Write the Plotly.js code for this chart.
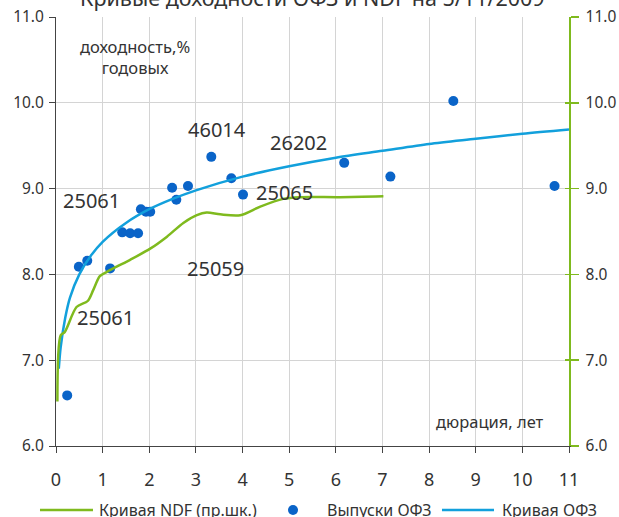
<!DOCTYPE html>
<html>
<head>
<meta charset="utf-8">
<script src="https://cdn.plot.ly/plotly-3.0.1.min.js"></script>
<style>html,body{margin:0;padding:0;background:#fff;}#chart{width:619px;height:517px;}</style>
</head>
<body>
<div id="chart"></div>
<script>
// OFZ issues (duration, yield)
const ofzDuration = [0.24, 0.49, 0.67, 1.16, 1.42, 1.59, 1.76, 1.82, 1.93, 2.02, 2.49, 2.58, 2.83, 3.33, 3.76, 4.01, 6.18, 7.17, 8.52, 10.69];
const ofzYield    = [6.59, 8.09, 8.16, 8.07, 8.49, 8.48, 8.48, 8.76, 8.73, 8.73, 9.01, 8.87, 9.03, 9.37, 9.12, 8.93, 9.30, 9.14, 10.02, 9.03];

// OFZ yield curve
const curveX = [0.06, 0.1, 0.2, 0.3, 0.5, 0.75, 1.0, 1.5, 2.0, 2.5, 3.0, 4.0, 5.0, 6.0, 7.0, 8.0, 9.0, 10.0, 11.0];
const curveY = [6.90, 7.15, 7.50, 7.73, 8.00, 8.22, 8.38, 8.60, 8.76, 8.88, 8.98, 9.14, 9.26, 9.36, 9.44, 9.52, 9.58, 9.64, 9.69];

// NDF curve (right scale)
const ndfX = [0.03, 0.10, 0.19, 0.44, 0.68, 0.80, 0.94, 1.09, 1.30, 1.59, 2.02, 2.38, 2.73, 3.02, 3.23, 3.52, 3.95, 4.38, 4.87, 5.24, 6.09, 7.02];
const ndfY = [6.52, 7.29, 7.33, 7.62, 7.69, 7.82, 7.98, 8.03, 8.09, 8.17, 8.30, 8.44, 8.60, 8.69, 8.72, 8.70, 8.69, 8.79, 8.88, 8.90, 8.90, 8.91];

const xTicks = [0,1,2,3,4,5,6,7,8,9,10,11];
const yTicks = [6,7,8,9,10,11];
const yTickLabels = ['6.0','7.0','8.0','9.0','10.0','11.0'];

const issueLabels = ['25061', '25061', '25059', '46014', '26202', '25065'];
const issueLabelX = [0.77, 1.07, 3.41, 3.45, 5.19, 4.89];
const issueLabelY = [8.86, 7.50, 8.07, 9.69, 9.54, 8.96];

const seriesNames = ['Кривая NDF (пр.шк.)', 'Выпуски ОФЗ', 'Кривая ОФЗ'];
const chartTitle = 'Кривые доходности ОФЗ и NDF на 5/11/2009';
const yLabel = 'доходность,%<br>годовых';
const xLabel = 'дюрация, лет';

const GREEN = '#7fba1e';
const LBLUE = '#12a0dc';
const DBLUE = '#0a64c8';
const TXT = '#333333';
const FONT = 'Noto Sans, Open Sans, sans-serif';

const traces = [
  {x: ndfX, y: ndfY, yaxis: 'y2', type: 'scatter', mode: 'lines', name: seriesNames[0],
   line: {color: GREEN, width: 2.5, shape: 'spline', smoothing: 0.8}},
  {x: ofzDuration, y: ofzYield, type: 'scatter', mode: 'markers', name: seriesNames[1],
   marker: {color: DBLUE, size: 10}},
  {x: curveX, y: curveY, type: 'scatter', mode: 'lines', name: seriesNames[2],
   line: {color: LBLUE, width: 2.5, shape: 'spline', smoothing: 0.8}}
];

const annotations = issueLabels.map((t, i) => ({
  x: issueLabelX[i], y: issueLabelY[i], xref: 'x', yref: 'y', text: t, showarrow: false,
  font: {family: FONT, size: 20, color: TXT}
}));
annotations.push({x: 1.70, y: 10.53, xref: 'x', yref: 'y', text: yLabel, showarrow: false,
  font: {family: FONT, size: 16.5, color: TXT}});
annotations.push({x: 9.31, y: 6.29, xref: 'x', yref: 'y', text: xLabel, showarrow: false,
  font: {family: FONT, size: 16.5, color: TXT}});
annotations.push({x: 0.5, y: 1.046, xref: 'paper', yref: 'paper', text: chartTitle, showarrow: false,
  xanchor: 'center', yanchor: 'middle', font: {family: FONT, size: 21.5, color: TXT}});

// legend (drawn below the plot)
const LEG_Y = -0.149;
const legTextX = [0.0799, 0.5244, 0.8655];
seriesNames.forEach((n, i) => annotations.push({
  x: legTextX[i], y: LEG_Y, xref: 'paper', yref: 'paper', text: n, showarrow: false,
  xanchor: 'left', yanchor: 'middle', font: {family: FONT, size: 16, color: TXT}
}));
const shapes = [
  {type: 'line', xref: 'paper', yref: 'paper', x0: -0.0312, x1: 0.0721, y0: LEG_Y, y1: LEG_Y,
   line: {color: GREEN, width: 2.5}},
  {type: 'circle', xref: 'paper', yref: 'paper', xsizemode: 'pixel', ysizemode: 'pixel',
   xanchor: 0.462, yanchor: LEG_Y, x0: -5, x1: 5, y0: -5, y1: 5,
   fillcolor: DBLUE, line: {width: 0}},
  {type: 'line', xref: 'paper', yref: 'paper', x0: 0.7524, x1: 0.8538, y0: LEG_Y, y1: LEG_Y,
   line: {color: LBLUE, width: 2.5}}
];

const layout = {
  width: 619, height: 517,
  margin: {l: 56, r: 50, t: 17, b: 71, autoexpand: false},
  paper_bgcolor: '#fff', plot_bgcolor: '#fff',
  font: {family: FONT, color: TXT},
  showlegend: false,
  xaxis: {range: [0, 11], tickvals: xTicks, ticktext: xTicks.map(String),
          showgrid: true, gridcolor: '#d4d4d4', gridwidth: 1,
          showline: true, linecolor: '#444', linewidth: 1, ticks: 'outside', ticklen: 6, tickcolor: '#444',
          tickfont: {family: FONT, size: 18, color: TXT}, ticklabelstandoff: 11, zeroline: false},
  yaxis: {range: [6, 11], tickvals: yTicks, ticktext: yTickLabels,
          showgrid: true, gridcolor: '#d4d4d4', gridwidth: 1,
          showline: true, linecolor: '#444', linewidth: 1, ticks: 'outside', ticklen: 6, tickcolor: '#444',
          tickfont: {family: FONT, size: 15.5, color: TXT}, ticklabelstandoff: 2, zeroline: false},
  yaxis2: {range: [6, 11], tickvals: yTicks, ticktext: yTickLabels, overlaying: 'y', side: 'right',
           showgrid: false, showline: true, linecolor: GREEN, linewidth: 1.5,
           ticks: 'outside', ticklen: 8, tickcolor: GREEN, tickwidth: 1.5, ticklabelstandoff: 4,
           tickfont: {family: FONT, size: 15.5, color: TXT}, zeroline: false},
  yaxis3: {range: [6, 11], tickvals: yTicks, overlaying: 'y', side: 'right', anchor: 'x',
           showgrid: false, showline: false, showticklabels: false,
           ticks: 'inside', ticklen: 4, tickcolor: GREEN, tickwidth: 1.5, zeroline: false},
  annotations: annotations,
  shapes: shapes
};

// invisible helper trace so the inner tick marks of the right axis are drawn
traces.push({x: [0], y: [6], yaxis: 'y3', type: 'scatter', mode: 'markers', marker: {opacity: 0}, hoverinfo: 'skip', showlegend: false});

Plotly.newPlot('chart', traces, layout, {displayModeBar: false, staticPlot: true});
</script>
</body>
</html>
